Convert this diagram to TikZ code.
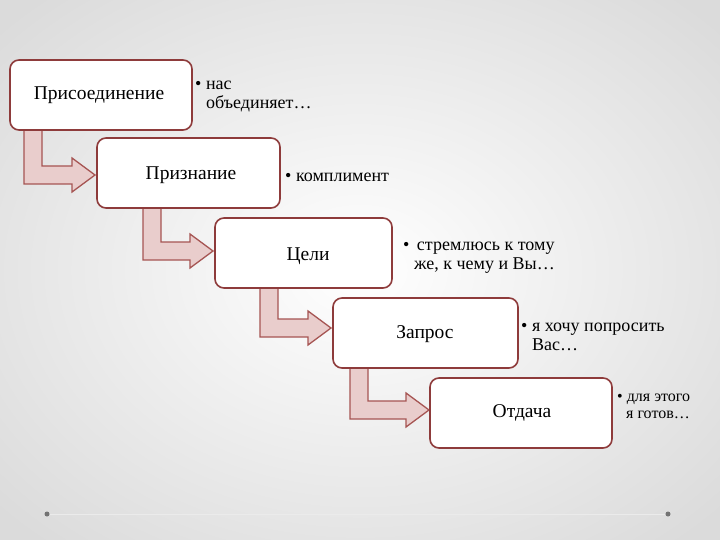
\documentclass[tikz,border=0pt]{standalone}
\usepackage{fontspec}
\setmainfont{Liberation Serif}
\begin{document}
\begin{tikzpicture}[x=1pt,y=-1pt,
  box/.style={draw=boxred,line width=1.6pt,rounded corners=9pt,fill=white,inner sep=0pt},
  lbl/.style={font=\fontsize{19.5}{20}\selectfont},
  note/.style={font=\fontsize{18}{19}\selectfont,align=left,anchor=west,inner sep=0pt},
  arr/.style={draw=arrred,fill=arrfill,line width=1.3pt,line join=miter}]
\definecolor{boxred}{HTML}{8E3B3B}
\definecolor{arrred}{HTML}{A65553}
\definecolor{arrfill}{HTML}{E9CDCC}
\useasboundingbox (0,0) rectangle (720,540);
\shade[inner color=white,outer color=black!14] (-120,-90) rectangle (840,630);
\node[circle,fill=black!55,minimum size=5pt,inner sep=0pt] (d1) at (47,514) {};
\node[circle,fill=black!55,minimum size=5pt,inner sep=0pt] (d2) at (668,514) {};
\draw[black!8,line width=0.6pt] (d1) -- (d2);
\newcommand\bent[4]{% x, top, centery, tip
  \draw[arr] (#1,#2) -- (#1,#3+9) -- (#4-23,#3+9) -- (#4-23,#3+17) -- (#4,#3) -- (#4-23,#3-17) -- (#4-23,#3-9) -- (#1+18,#3-9) -- (#1+18,#2);}
\bent{24}{128}{175}{95}
\bent{143}{206}{251}{213}
\bent{260}{286}{328}{331}
\bent{350}{366}{410}{429}
\node[box,minimum width=182pt,minimum height=70pt] (b1) at (101,95) {};
\node[lbl] (t1) at (99,95) {Присоединение};
\node[box,minimum width=183pt,minimum height=70pt] (b2) at (188.5,173) {};
\node[lbl] (t2) at (191,175) {Признание};
\node[box,minimum width=177pt,minimum height=70pt] (b3) at (303.5,253) {};
\node[lbl] (t3) at (308,256) {Цели};
\node[box,minimum width=185pt,minimum height=70pt] (b4) at (425.5,333) {};
\node[lbl] (t4) at (425,334) {Запрос};
\node[box,minimum width=182pt,minimum height=70pt] (b5) at (521,413) {};
\node[lbl] (t5) at (522,413) {Отдача};
\node[note] (n1) at (195,97) {• нас\\\hspace*{11pt}объединяет…};
\node[note] (n2) at (285,177) {• комплимент};
\node[note] (n3) at (403,258) {•\, стремлюсь к тому\\\hspace*{11pt}же, к чему и Вы…};
\node[note] (n4) at (521,337) {• я хочу попросить\\\hspace*{11pt}Вас…};
\node[note,font=\fontsize{16}{17}\selectfont] (n5) at (617,406) {• для этого\\\hspace*{9pt}я готов…};
\end{tikzpicture}
\end{document}
